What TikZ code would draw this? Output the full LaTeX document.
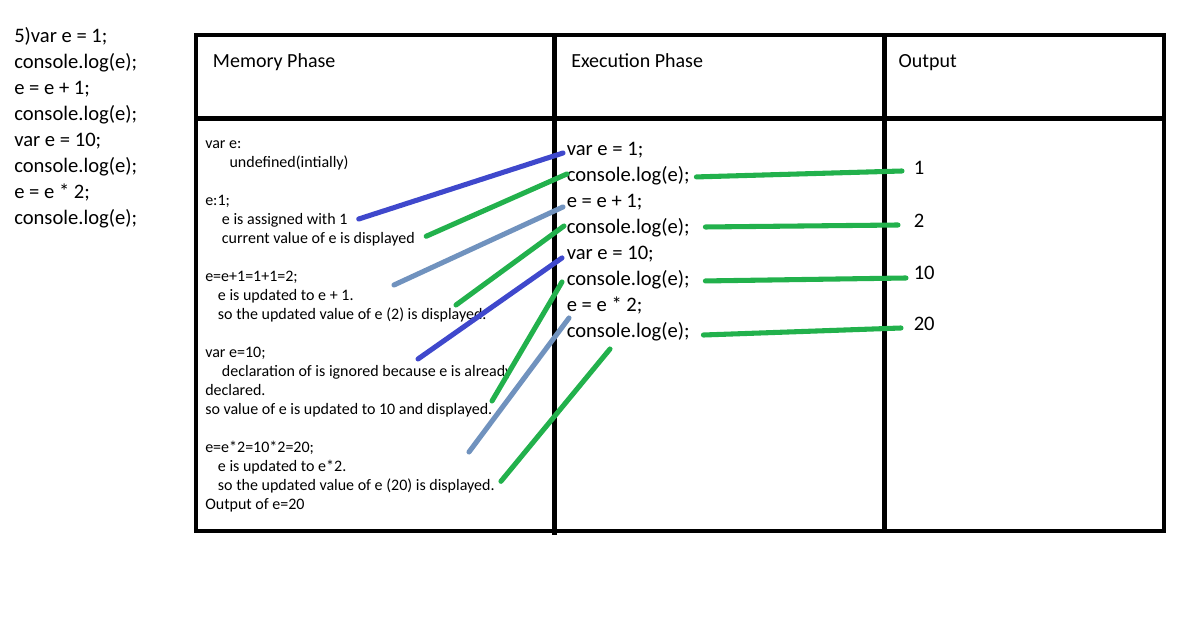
\documentclass[tikz,border=0pt]{standalone}
\usepackage{fontspec}
\setmainfont{Carlito}
\definecolor{indigo}{HTML}{3F48CC}
\definecolor{paintgreen}{HTML}{22B14C}
\definecolor{steel}{HTML}{7092BE}
\begin{document}
\begin{tikzpicture}[x=0.75pt,y=-0.75pt,
every node/.style={inner sep=0pt,anchor=base west},
code/.style={font=\fontsize{15.45}{18}\selectfont,text height=10.5pt,text depth=3pt},
head/.style={font=\fontsize{15}{18}\selectfont},
memo/.style={font=\fontsize{12}{14}\selectfont,text height=8.25pt,text depth=2.25pt},
grid/.style={line width=3.7pt},
stroke/.style={line width=3.8pt,line cap=round}]
\useasboundingbox (0,0) rectangle (1200,623);
% table
\draw[grid] (196,35) rectangle (1164,531);
\draw[grid] (196,118.8) -- (1164,118.8);
\draw[grid] (554.5,35) -- (554.5,535);
\draw[grid] (884.5,35) -- (884.5,531);
\node[head] (h1) at (212.7,67.3) {Memory Phase};
\node[head] (h2) at (571,67.3) {Execution Phase};
\node[head] (h3) at (898.3,67.3) {Output};
% program
\foreach \t [count=\i] in {5)var e = 1;,console.log(e);,e = e + 1;,console.log(e);,var e = 10;,console.log(e);,e = e * 2;,console.log(e);}
  \node[code] (c\i) at (14,{42.7+25.93*(\i-1)}) {\t};
% execution phase
\foreach \t [count=\i] in {var e = 1;,console.log(e);,e = e + 1;,console.log(e);,var e = 10;,console.log(e);,e = e * 2;,console.log(e);}
  \node[code] (x\i) at (566.5,{155.7+25.93*(\i-1)}) {\t};
% memory phase
\foreach \k/\dx/\t in {0/205/var e:,1/229.3/undefined(intially),
  3/205/e:1;,4/221.7/e is assigned with 1,5/221.7/current value of e is displayed,
  7/205/e=e+1=1+1=2;,8/217.7/e is updated to e + 1.,9/217.7/so the updated value of e (2) is displayed.,
  11/205/var e=10;,12/221.7/declaration of is ignored because e is already,13/205/declared.,14/205/so value of e is updated to 10 and displayed.,
  16/205/e=e*2=10*2=20;,17/217.7/e is updated to e*2.,18/217.7/so the updated value of e (20) is displayed.,19/205/Output of e=20}
  \node[memo] (m\k) at (\dx,{148.3+19*\k}) {\t};
% output
\foreach \v/\yb [count=\i] in {1/175,2/227.3,10/279.3,20/330.7}
  \node[code] (o\i) at (913.5,\yb) {\v};
% free ends
\coordinate (s3) at (394,285);
\coordinate (s4) at (456,305);
\coordinate (s5) at (418,359);
\coordinate (s6) at (492,401);
\coordinate (s7) at (469,452);
\coordinate (e8) at (610,349);
% links memory -> execution
\draw[stroke,indigo] ([shift={(11,-1.3)}]m4.east) -- ([shift={(-3.5,2.3)}]x1.west);
\draw[stroke,paintgreen] ([shift={(11,-3)}]m5.east) -- ([shift={(0.5,-2.7)}]x2.west);
\draw[stroke,steel] (s3) -- ([shift={(-3.5,4.4)}]x3.west);
\draw[stroke,paintgreen] (s4) -- ([shift={(-2.5,-2.5)}]x4.west);
\draw[stroke,indigo] (s5) -- ([shift={(-4.5,3.5)}]x5.west);
\draw[stroke,paintgreen] (s6) -- ([shift={(-4.5,1.6)}]x6.west);
\draw[stroke,steel] (s7) -- ([shift={(2.5,11.7)}]x7.west);
\draw[stroke,paintgreen] ([shift={(6,-5)}]m18.east) -- (e8);
% links execution -> output
\draw[stroke,paintgreen] ([shift={(6.5,0.3)}]x2.east) -- ([shift={(-11.5,1)}]o1.west);
\draw[stroke,paintgreen] ([shift={(15.5,-1.5)}]x4.east) -- ([shift={(-15.5,2.7)}]o2.west);
\draw[stroke,paintgreen] ([shift={(15.5,0.6)}]x6.east) -- ([shift={(-7.5,3.7)}]o3.west);
\draw[stroke,paintgreen] ([shift={(13.5,2.8)}]x8.east) -- ([shift={(-12.5,2.3)}]o4.west);
\end{tikzpicture}
\end{document}
